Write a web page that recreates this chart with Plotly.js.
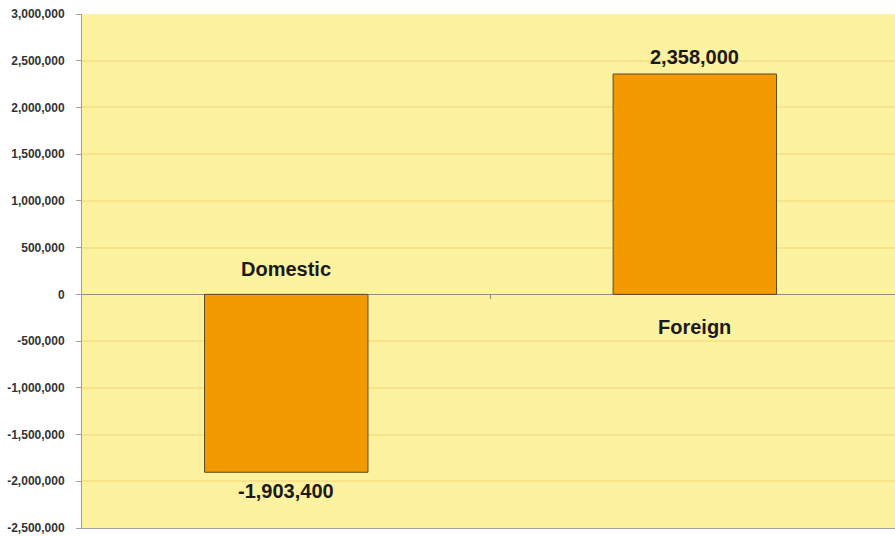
<!DOCTYPE html>
<html>
<head>
<meta charset="utf-8">
<script src="https://cdn.plot.ly/plotly-3.0.1.min.js"></script>
<style>html,body{margin:0;padding:0;background:#fff;}#chart{width:895px;height:536px;}</style>
</head>
<body>
<div id="chart"></div>
<script>
const categories = ["Domestic", "Foreign"];
const values = [-1903400, 2358000];
const tickValues = [-2500000, -2000000, -1500000, -1000000, -500000, 0, 500000, 1000000, 1500000, 2000000, 2500000, 3000000];
const tickLabels = ["-2,500,000", "-2,000,000", "-1,500,000", "-1,000,000", "-500,000", "0", "500,000", "1,000,000", "1,500,000", "2,000,000", "2,500,000", "3,000,000"];
const yMin = -2500000, yMax = 3000000;

const fmt = v => (v < 0 ? "-" : "") + Math.abs(v).toString().replace(/\B(?=(\d{3})+(?!\d))/g, ",");

const trace = {
  type: "bar",
  x: categories,
  y: values,
  width: 0.4,
  marker: { color: "#F39A00", line: { color: "#5C4A1E", width: 1 } },
  hoverinfo: "none"
};

const annFont = { family: "Liberation Sans, Arial, sans-serif", size: 20, color: "#1a1a1a", weight: "bold" };
const annotations = [];
categories.forEach((c, i) => {
  const v = values[i];
  annotations.push({
    x: c, y: v, xref: "x", yref: "y",
    text: fmt(v), showarrow: false,
    yanchor: v < 0 ? "top" : "bottom",
    yshift: v < 0 ? -6 : 4,
    font: annFont
  });
  annotations.push({
    x: c, y: 0, xref: "x", yref: "y",
    text: c, showarrow: false,
    yanchor: v < 0 ? "bottom" : "top",
    yshift: v < 0 ? 12 : -20,
    font: annFont
  });
});

const layout = {
  width: 895, height: 536,
  margin: { l: 82, r: 0, t: 14, b: 8 },
  paper_bgcolor: "#ffffff",
  plot_bgcolor: "#FDF2A0",
  showlegend: false,
  xaxis: {
    range: [-0.5, 1.49],
    showticklabels: false,
    showgrid: false,
    zeroline: false,
    showline: true, linecolor: "#a0a0a0", linewidth: 1,
    ticks: ""
  },
  xaxis2: {
    range: [-0.5, 1.49],
    overlaying: "x",
    anchor: "free",
    position: (0 - yMin) / (yMax - yMin),
    side: "bottom",
    tickmode: "array",
    tickvals: [0.5],
    ticks: "outside", ticklen: 4, tickcolor: "#8a8a70", tickwidth: 1,
    showticklabels: false, showgrid: false, zeroline: false, showline: false
  },
  yaxis: {
    range: [yMin, yMax],
    tickvals: tickValues,
    ticktext: tickLabels,
    showgrid: true, gridcolor: "#F7E38A", gridwidth: 2,
    zeroline: true, zerolinecolor: "#8f8f78", zerolinewidth: 1,
    showline: true, linecolor: "#a0a0a0", linewidth: 1,
    ticks: "outside", ticklen: 5, tickcolor: "#a0a0a0",
    ticklabelstandoff: 9,
    tickfont: { family: "Liberation Sans, Arial, sans-serif", size: 12, color: "#333333", weight: "bold" }
  },
  annotations: annotations
};

const tickTrace = { type: "scatter", x: [], y: [], xaxis: "x2", yaxis: "y", hoverinfo: "none" };

Plotly.newPlot("chart", [trace, tickTrace], layout, { staticPlot: true, displayModeBar: false });
</script>
</body>
</html>
